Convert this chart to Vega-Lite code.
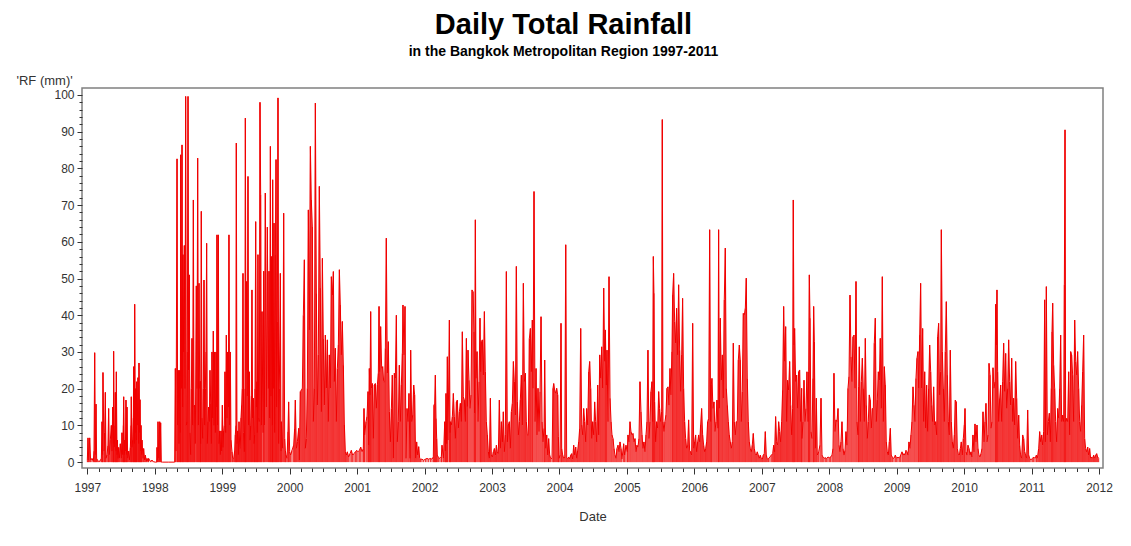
{
"$schema": "https://vega.github.io/schema/vega-lite/v6.json",
"width": 1021,
"height": 380,
"autosize": "none",
"padding": {"left": 82, "top": 88, "right": 28, "bottom": 78},
"background": "white",
"title": {"text": "Daily Total Rainfall", "subtitle": "in the Bangkok Metropolitan Region 1997-2011", "font": "Liberation Sans", "fontSize": 29, "fontWeight": "bold", "color": "black", "subtitleFont": "Liberation Sans", "subtitleFontSize": 14, "subtitleFontWeight": "bold", "subtitleColor": "black", "subtitlePadding": 5, "anchor": "middle", "dx": -29, "offset": 15},
"config": {"font": "Liberation Sans", "view": {"stroke": "#808080", "strokeWidth": 1.5}},
"data": {"values": [
{"date":1997.000,"rf":0.5},{"date":1997.010,"rf":6.6},{"date":1997.020,"rf":0.5},{"date":1997.035,"rf":6.6},{"date":1997.049,"rf":0.5},{"date":1997.069,"rf":1},{"date":1997.089,"rf":0.3},{"date":1997.099,"rf":3},{"date":1997.109,"rf":29.8},{"date":1997.119,"rf":2},{"date":1997.129,"rf":15.8},{"date":1997.138,"rf":1},{"date":1997.153,"rf":0.5},{"date":1997.168,"rf":0.2},{"date":1997.188,"rf":0.3},{"date":1997.208,"rf":1},{"date":1997.218,"rf":11},{"date":1997.227,"rf":2},{"date":1997.232,"rf":24.4},{"date":1997.247,"rf":3},{"date":1997.257,"rf":8},{"date":1997.267,"rf":19},{"date":1997.277,"rf":1},{"date":1997.292,"rf":2},{"date":1997.306,"rf":4.5},{"date":1997.316,"rf":14.6},{"date":1997.326,"rf":2},{"date":1997.341,"rf":6},{"date":1997.356,"rf":10},{"date":1997.366,"rf":3},{"date":1997.376,"rf":15},{"date":1997.386,"rf":5},{"date":1997.390,"rf":30.2},{"date":1997.400,"rf":4},{"date":1997.410,"rf":10},{"date":1997.415,"rf":19},{"date":1997.425,"rf":3},{"date":1997.430,"rf":24.6},{"date":1997.440,"rf":2},{"date":1997.445,"rf":6},{"date":1997.455,"rf":1},{"date":1997.465,"rf":4},{"date":1997.475,"rf":1},{"date":1997.489,"rf":5},{"date":1997.504,"rf":1},{"date":1997.514,"rf":8},{"date":1997.524,"rf":2},{"date":1997.534,"rf":10},{"date":1997.539,"rf":17.8},{"date":1997.549,"rf":2},{"date":1997.554,"rf":6},{"date":1997.564,"rf":3},{"date":1997.573,"rf":16.9},{"date":1997.583,"rf":2},{"date":1997.588,"rf":15},{"date":1997.598,"rf":1},{"date":1997.613,"rf":3},{"date":1997.623,"rf":0.5},{"date":1997.638,"rf":4},{"date":1997.648,"rf":10},{"date":1997.652,"rf":17.8},{"date":1997.662,"rf":4},{"date":1997.672,"rf":6},{"date":1997.682,"rf":12},{"date":1997.687,"rf":26},{"date":1997.697,"rf":5},{"date":1997.702,"rf":43},{"date":1997.712,"rf":8},{"date":1997.717,"rf":20},{"date":1997.727,"rf":6},{"date":1997.732,"rf":21.9},{"date":1997.741,"rf":10},{"date":1997.751,"rf":23},{"date":1997.761,"rf":5},{"date":1997.766,"rf":27},{"date":1997.776,"rf":8},{"date":1997.781,"rf":17},{"date":1997.791,"rf":3},{"date":1997.796,"rf":10},{"date":1997.806,"rf":2},{"date":1997.811,"rf":6},{"date":1997.825,"rf":1},{"date":1997.835,"rf":3.7},{"date":1997.850,"rf":0.5},{"date":1997.860,"rf":1.9},{"date":1997.875,"rf":0.3},{"date":1997.885,"rf":1},{"date":1997.900,"rf":0.2},{"date":1997.909,"rf":1},{"date":1997.934,"rf":0.2},{"date":1997.959,"rf":0.5},{"date":1997.984,"rf":0.1},{"date":1998.008,"rf":0},{"date":1998.028,"rf":0},{"date":1998.033,"rf":4},{"date":1998.043,"rf":0.5},{"date":1998.048,"rf":11},{"date":1998.058,"rf":1},{"date":1998.073,"rf":11},{"date":1998.077,"rf":0.5},{"date":1998.087,"rf":10.7},{"date":1998.097,"rf":0},{"date":1998.117,"rf":0},{"date":1998.206,"rf":0},{"date":1998.295,"rf":0},
{"date":1998.305,"rf":25.5},{"date":1998.315,"rf":3},{"date":1998.330,"rf":82.6},{"date":1998.339,"rf":10},{"date":1998.349,"rf":25},{"date":1998.359,"rf":5},{"date":1998.369,"rf":25},{"date":1998.379,"rf":8},{"date":1998.384,"rf":83.7},{"date":1998.394,"rf":20},{"date":1998.404,"rf":86.4},{"date":1998.414,"rf":15},{"date":1998.418,"rf":56.5},{"date":1998.428,"rf":30},{"date":1998.438,"rf":59},{"date":1998.448,"rf":20},{"date":1998.458,"rf":99.6},{"date":1998.468,"rf":10},{"date":1998.478,"rf":11},{"date":1998.483,"rf":30},{"date":1998.493,"rf":99.6},{"date":1998.502,"rf":25},{"date":1998.512,"rf":51},{"date":1998.522,"rf":8},{"date":1998.532,"rf":2},{"date":1998.542,"rf":20},{"date":1998.552,"rf":33.7},{"date":1998.562,"rf":10},{"date":1998.572,"rf":71.4},{"date":1998.582,"rf":15},{"date":1998.591,"rf":15.5},{"date":1998.601,"rf":5},{"date":1998.616,"rf":48},{"date":1998.626,"rf":20},{"date":1998.636,"rf":82.8},{"date":1998.646,"rf":10},{"date":1998.656,"rf":48.7},{"date":1998.666,"rf":20},{"date":1998.675,"rf":22},{"date":1998.680,"rf":5},{"date":1998.690,"rf":68.3},{"date":1998.700,"rf":12},{"date":1998.710,"rf":6.4},{"date":1998.720,"rf":20},{"date":1998.730,"rf":49.6},{"date":1998.740,"rf":10},{"date":1998.750,"rf":20},{"date":1998.759,"rf":30},{"date":1998.769,"rf":59.6},{"date":1998.779,"rf":5},{"date":1998.789,"rf":11},{"date":1998.799,"rf":15},{"date":1998.809,"rf":11},{"date":1998.819,"rf":25},{"date":1998.829,"rf":16},{"date":1998.839,"rf":5},{"date":1998.848,"rf":30},{"date":1998.858,"rf":12},{"date":1998.868,"rf":35.7},{"date":1998.878,"rf":10},{"date":1998.888,"rf":30},{"date":1998.898,"rf":8},{"date":1998.908,"rf":30},{"date":1998.918,"rf":15},{"date":1998.922,"rf":61.9},{"date":1998.932,"rf":10},{"date":1998.942,"rf":61.9},{"date":1998.952,"rf":5},{"date":1998.962,"rf":8.5},{"date":1998.972,"rf":2},{"date":1998.982,"rf":8.5},{"date":1998.992,"rf":3},{"date":1999.002,"rf":15.5},{"date":1999.011,"rf":4},{"date":1999.021,"rf":8.5},{"date":1999.031,"rf":10},{"date":1999.041,"rf":24.6},{"date":1999.051,"rf":8},{"date":1999.061,"rf":34.6},{"date":1999.071,"rf":12},{"date":1999.081,"rf":30},{"date":1999.091,"rf":15},{"date":1999.100,"rf":61.9},{"date":1999.110,"rf":10},{"date":1999.120,"rf":30},{"date":1999.130,"rf":6},{"date":1999.145,"rf":2.8},{"date":1999.155,"rf":1},{"date":1999.170,"rf":1},{"date":1999.184,"rf":3},{"date":1999.194,"rf":7.4},{"date":1999.204,"rf":10},{"date":1999.209,"rf":86.9},{"date":1999.219,"rf":5},{"date":1999.229,"rf":8.5},{"date":1999.239,"rf":2},{"date":1999.249,"rf":11},{"date":1999.259,"rf":4},{"date":1999.268,"rf":3.7},{"date":1999.278,"rf":12},{"date":1999.288,"rf":15.5},{"date":1999.298,"rf":20},{"date":1999.308,"rf":51.4},{"date":1999.318,"rf":8},{"date":1999.328,"rf":2.8},{"date":1999.338,"rf":20},{"date":1999.343,"rf":93.7},{"date":1999.352,"rf":25},{"date":1999.362,"rf":49.2},{"date":1999.372,"rf":18},{"date":1999.382,"rf":77.8},{"date":1999.392,"rf":10},{"date":1999.402,"rf":24.6},{"date":1999.412,"rf":6},{"date":1999.422,"rf":10},{"date":1999.432,"rf":18},{"date":1999.441,"rf":46.9},{"date":1999.451,"rf":12},{"date":1999.461,"rf":17.4},{"date":1999.471,"rf":5},{"date":1999.481,"rf":7.4},{"date":1999.486,"rf":20},{"date":1999.496,"rf":65.5},{"date":1999.506,"rf":15},{"date":1999.516,"rf":21.9},{"date":1999.520,"rf":8},{"date":1999.530,"rf":56.5},{"date":1999.540,"rf":12},{"date":1999.550,"rf":11},{"date":1999.560,"rf":98},{"date":1999.570,"rf":72.8},{"date":1999.580,"rf":10},
{"date":1999.590,"rf":41},{"date":1999.605,"rf":8},{"date":1999.615,"rf":52},{"date":1999.625,"rf":10},{"date":1999.639,"rf":73.3},{"date":1999.654,"rf":15},{"date":1999.669,"rf":64},{"date":1999.684,"rf":20},{"date":1999.694,"rf":52},{"date":1999.704,"rf":12},{"date":1999.714,"rf":86},{"date":1999.723,"rf":18},{"date":1999.733,"rf":56},{"date":1999.743,"rf":10},{"date":1999.748,"rf":76.9},{"date":1999.758,"rf":20},{"date":1999.768,"rf":65.1},{"date":1999.778,"rf":8},{"date":1999.788,"rf":56.4},{"date":1999.798,"rf":82.4},{"date":1999.807,"rf":15},{"date":1999.817,"rf":38.3},{"date":1999.827,"rf":99.2},{"date":1999.837,"rf":5},{"date":1999.847,"rf":20.1},{"date":1999.862,"rf":51.4},{"date":1999.872,"rf":3},{"date":1999.877,"rf":11},{"date":1999.896,"rf":3.7},{"date":1999.911,"rf":67.8},{"date":1999.926,"rf":6.4},{"date":1999.936,"rf":3.2},{"date":1999.946,"rf":1.9},{"date":1999.961,"rf":1},{"date":1999.975,"rf":8.3},{"date":1999.985,"rf":16.4},{"date":2000.000,"rf":2.8},{"date":2000.015,"rf":1.9},{"date":2000.035,"rf":3.2},{"date":2000.059,"rf":4.6},{"date":2000.074,"rf":9.2},{"date":2000.084,"rf":16.9},{"date":2000.099,"rf":3.7},{"date":2000.114,"rf":5.5},{"date":2000.134,"rf":9.2},{"date":2000.143,"rf":0.5},{"date":2000.158,"rf":19.2},{"date":2000.173,"rf":19.6},{"date":2000.188,"rf":20.1},{"date":2000.203,"rf":40},{"date":2000.218,"rf":55.1},{"date":2000.232,"rf":3.7},{"date":2000.247,"rf":6.4},{"date":2000.262,"rf":20.1},{"date":2000.277,"rf":68.7},{"date":2000.292,"rf":36},{"date":2000.307,"rf":86},{"date":2000.321,"rf":71.4},{"date":2000.336,"rf":64.2},{"date":2000.351,"rf":11},{"date":2000.366,"rf":20.1},{"date":2000.381,"rf":97.8},{"date":2000.396,"rf":46},{"date":2000.410,"rf":15.5},{"date":2000.425,"rf":29.2},{"date":2000.440,"rf":75.1},{"date":2000.455,"rf":47.4},{"date":2000.470,"rf":13.7},{"date":2000.485,"rf":55.5},{"date":2000.499,"rf":33.7},{"date":2000.514,"rf":15.5},{"date":2000.529,"rf":34.6},{"date":2000.544,"rf":20.1},{"date":2000.559,"rf":33.3},{"date":2000.573,"rf":11},{"date":2000.588,"rf":29.2},{"date":2000.603,"rf":20.1},{"date":2000.618,"rf":50.5},{"date":2000.633,"rf":45.5},{"date":2000.648,"rf":51.9},{"date":2000.662,"rf":21.9},{"date":2000.677,"rf":31},{"date":2000.692,"rf":11},{"date":2000.707,"rf":25.5},{"date":2000.722,"rf":31.9},{"date":2000.737,"rf":52.4},{"date":2000.751,"rf":42.8},{"date":2000.766,"rf":29.2},{"date":2000.781,"rf":38.3},{"date":2000.796,"rf":26.4},{"date":2000.811,"rf":10.1},{"date":2000.826,"rf":2.8},{"date":2000.840,"rf":1.9},{"date":2000.855,"rf":2.8},{"date":2000.875,"rf":1.4},{"date":2000.895,"rf":2.3},{"date":2000.914,"rf":3.2},{"date":2000.934,"rf":1.9},{"date":2000.954,"rf":2.3},{"date":2000.974,"rf":2.8},{"date":2000.994,"rf":3.2},{"date":2001.013,"rf":2.8},{"date":2001.033,"rf":3.2},{"date":2001.053,"rf":4.1},{"date":2001.073,"rf":2.8},{"date":2001.092,"rf":3.7},{"date":2001.102,"rf":14.6},{"date":2001.112,"rf":7.4},{"date":2001.132,"rf":11},{"date":2001.147,"rf":12.4},{"date":2001.162,"rf":19.2},{"date":2001.171,"rf":4.6},{"date":2001.181,"rf":25.5},{"date":2001.191,"rf":18.3},{"date":2001.201,"rf":41},{"date":2001.211,"rf":20.1},{"date":2001.226,"rf":21.4},{"date":2001.241,"rf":6.4},{"date":2001.255,"rf":21},{"date":2001.270,"rf":21.4},{"date":2001.285,"rf":14.6},{"date":2001.300,"rf":21},{"date":2001.315,"rf":24.2},{"date":2001.325,"rf":42.4},{"date":2001.334,"rf":24.6},{"date":2001.349,"rf":36.9},{"date":2001.364,"rf":25.5},{"date":2001.379,"rf":26},{"date":2001.394,"rf":21.9},{"date":2001.409,"rf":21.9},{"date":2001.419,"rf":31},{"date":2001.433,"rf":61},{"date":2001.448,"rf":24.2},{"date":2001.463,"rf":32.8},{"date":2001.478,"rf":13.7},{"date":2001.493,"rf":5.5},{"date":2001.508,"rf":14.6},{"date":2001.522,"rf":23.7},{"date":2001.537,"rf":1},{"date":2001.552,"rf":24.2},{"date":2001.567,"rf":22.8},{"date":2001.582,"rf":40},{"date":2001.596,"rf":5.5},{"date":2001.611,"rf":11},{"date":2001.626,"rf":26.4},{"date":2001.641,"rf":11},{"date":2001.656,"rf":21},{"date":2001.671,"rf":29.6},{"date":2001.680,"rf":42.8},{"date":2001.695,"rf":29.2},{"date":2001.710,"rf":42.4},{"date":2001.725,"rf":1},{"date":2001.740,"rf":14.6},{"date":2001.755,"rf":11},{"date":2001.769,"rf":18.7},{"date":2001.784,"rf":1},{"date":2001.794,"rf":30.5},{"date":2001.809,"rf":11},{"date":2001.824,"rf":12.8},{"date":2001.839,"rf":21},{"date":2001.853,"rf":18.3},{"date":2001.868,"rf":1},{"date":2001.883,"rf":5.5},{"date":2001.898,"rf":1.9},{"date":2001.913,"rf":4.2},{"date":2001.928,"rf":1},{"date":2001.942,"rf":0.8},{"date":2001.962,"rf":0.8},{"date":2001.987,"rf":0.5},{"date":2002.012,"rf":0.8},{"date":2002.036,"rf":1},{"date":2002.061,"rf":0.8},{"date":2002.086,"rf":1},{"date":2002.110,"rf":0.8},{"date":2002.130,"rf":1.4},{"date":2002.140,"rf":15.5},{"date":2002.150,"rf":16},{"date":2002.160,"rf":23.7},{"date":2002.170,"rf":11.9},{"date":2002.180,"rf":6.4},{"date":2002.189,"rf":1.9},{"date":2002.209,"rf":1.2},{"date":2002.229,"rf":1},{"date":2002.249,"rf":1.5},
{"date":2002.259,"rf":4.6},{"date":2002.279,"rf":1},{"date":2002.299,"rf":11},{"date":2002.308,"rf":3},{"date":2002.318,"rf":18.7},{"date":2002.328,"rf":5},{"date":2002.338,"rf":28.7},{"date":2002.348,"rf":6},{"date":2002.368,"rf":38.7},{"date":2002.378,"rf":8},{"date":2002.383,"rf":11},{"date":2002.397,"rf":10.1},{"date":2002.412,"rf":12.4},{"date":2002.427,"rf":18.7},{"date":2002.442,"rf":12.4},{"date":2002.457,"rf":6.4},{"date":2002.472,"rf":16.4},{"date":2002.486,"rf":16.9},{"date":2002.501,"rf":9.2},{"date":2002.516,"rf":13.7},{"date":2002.531,"rf":16},{"date":2002.546,"rf":11},{"date":2002.560,"rf":35.5},{"date":2002.575,"rf":17.8},{"date":2002.590,"rf":16.9},{"date":2002.605,"rf":11},{"date":2002.620,"rf":33.7},{"date":2002.635,"rf":15.1},{"date":2002.644,"rf":30.5},{"date":2002.659,"rf":22.3},{"date":2002.674,"rf":14.6},{"date":2002.689,"rf":18.3},{"date":2002.704,"rf":46.9},{"date":2002.719,"rf":46.4},{"date":2002.733,"rf":35.5},{"date":2002.743,"rf":13.3},{"date":2002.753,"rf":66},{"date":2002.763,"rf":22.8},{"date":2002.778,"rf":30.1},{"date":2002.793,"rf":11},{"date":2002.808,"rf":21.9},{"date":2002.822,"rf":39.2},{"date":2002.832,"rf":24.6},{"date":2002.842,"rf":32.8},{"date":2002.857,"rf":33.3},{"date":2002.872,"rf":23.7},{"date":2002.887,"rf":41},{"date":2002.901,"rf":24.6},{"date":2002.916,"rf":11},{"date":2002.931,"rf":7.4},{"date":2002.946,"rf":2.8},{"date":2002.961,"rf":1},{"date":2002.976,"rf":17.4},{"date":2002.990,"rf":1.9},{"date":2003.005,"rf":1.4},{"date":2003.020,"rf":2.8},{"date":2003.035,"rf":3.7},{"date":2003.050,"rf":1.9},{"date":2003.065,"rf":4.6},{"date":2003.079,"rf":2.8},{"date":2003.094,"rf":2.3},{"date":2003.109,"rf":16.9},{"date":2003.124,"rf":3.7},{"date":2003.139,"rf":11},{"date":2003.154,"rf":5.5},{"date":2003.168,"rf":13.7},{"date":2003.183,"rf":2.8},{"date":2003.198,"rf":7.4},{"date":2003.213,"rf":51.9},{"date":2003.228,"rf":5.5},{"date":2003.242,"rf":10.1},{"date":2003.257,"rf":11},{"date":2003.272,"rf":3.7},{"date":2003.287,"rf":13.7},{"date":2003.302,"rf":16},{"date":2003.317,"rf":27.4},{"date":2003.331,"rf":21.9},{"date":2003.346,"rf":12.8},{"date":2003.361,"rf":53.3},{"date":2003.376,"rf":16.4},{"date":2003.391,"rf":7.4},{"date":2003.406,"rf":11},{"date":2003.420,"rf":16.9},{"date":2003.435,"rf":23.7},{"date":2003.450,"rf":10.1},{"date":2003.465,"rf":48.7},{"date":2003.480,"rf":21.9},{"date":2003.495,"rf":24.2},{"date":2003.509,"rf":11},{"date":2003.524,"rf":7.4},{"date":2003.539,"rf":7.4},{"date":2003.554,"rf":33.7},{"date":2003.569,"rf":36.4},{"date":2003.583,"rf":24.6},{"date":2003.598,"rf":38.7},{"date":2003.608,"rf":20.1},{"date":2003.623,"rf":73.7},{"date":2003.638,"rf":11},{"date":2003.653,"rf":25.5},{"date":2003.667,"rf":7.4},{"date":2003.682,"rf":20.1},{"date":2003.697,"rf":8.3},{"date":2003.712,"rf":19.2},{"date":2003.727,"rf":39.6},{"date":2003.742,"rf":11},{"date":2003.756,"rf":5.5},{"date":2003.771,"rf":9.2},{"date":2003.781,"rf":27.8},{"date":2003.796,"rf":3.7},{"date":2003.811,"rf":7.4},{"date":2003.826,"rf":1.9},{"date":2003.840,"rf":6.4},{"date":2003.855,"rf":1.9},{"date":2003.870,"rf":1},{"date":2003.890,"rf":1},{"date":2003.905,"rf":20.1},{"date":2003.915,"rf":21.4},{"date":2003.929,"rf":19.6},{"date":2003.944,"rf":18.7},{"date":2003.959,"rf":20.1},{"date":2003.974,"rf":18.3},{"date":2003.984,"rf":6.9},{"date":2003.994,"rf":1},{"date":2004.009,"rf":1.9},{"date":2004.023,"rf":37.8},{"date":2004.033,"rf":3.7},{"date":2004.048,"rf":1.9},{"date":2004.063,"rf":1},{"date":2004.078,"rf":1.4},{"date":2004.093,"rf":59.2},{"date":2004.107,"rf":1},{"date":2004.122,"rf":1},{"date":2004.137,"rf":1.4},{"date":2004.152,"rf":0.8},{"date":2004.167,"rf":1.9},{"date":2004.181,"rf":2.3},{"date":2004.196,"rf":0.8},{"date":2004.211,"rf":4.6},{"date":2004.226,"rf":1.9},{"date":2004.241,"rf":4.1},{"date":2004.256,"rf":1},{"date":2004.270,"rf":3.2},{"date":2004.285,"rf":5.5},{"date":2004.300,"rf":9.2},{"date":2004.315,"rf":36.4},{"date":2004.330,"rf":10.1},{"date":2004.345,"rf":7.4},{"date":2004.359,"rf":14.6},{"date":2004.374,"rf":11},{"date":2004.389,"rf":5.5},{"date":2004.404,"rf":14.6},{"date":2004.419,"rf":10.1},{"date":2004.434,"rf":24.6},{"date":2004.448,"rf":27.4},{"date":2004.463,"rf":20.1},{"date":2004.478,"rf":6.4},{"date":2004.493,"rf":11},{"date":2004.508,"rf":7.4},{"date":2004.522,"rf":16.4},{"date":2004.537,"rf":11},{"date":2004.552,"rf":5.5},{"date":2004.567,"rf":21},{"date":2004.582,"rf":7.4},{"date":2004.597,"rf":29.2},{"date":2004.611,"rf":22.8},{"date":2004.626,"rf":31.4},{"date":2004.641,"rf":20.1},{"date":2004.656,"rf":47.4},{"date":2004.671,"rf":27.4},{"date":2004.681,"rf":36},{"date":2004.695,"rf":21},{"date":2004.705,"rf":30.5},{"date":2004.720,"rf":11},{"date":2004.735,"rf":50.5},{"date":2004.750,"rf":17.4},{"date":2004.765,"rf":11},{"date":2004.779,"rf":7.4},{"date":2004.794,"rf":6.4},{"date":2004.809,"rf":3.7},{"date":2004.824,"rf":1.9},{"date":2004.839,"rf":1},{"date":2004.853,"rf":3.7},{"date":2004.868,"rf":4.6},{"date":2004.883,"rf":2.8},{"date":2004.898,"rf":5.5},{"date":2004.913,"rf":3.7},
{"date":2004.927,"rf":0.8},{"date":2004.952,"rf":5},{"date":2004.967,"rf":1.9},{"date":2004.986,"rf":4.6},{"date":2005.006,"rf":2.8},{"date":2005.016,"rf":7.4},{"date":2005.031,"rf":5.5},{"date":2005.046,"rf":11},{"date":2005.060,"rf":8.3},{"date":2005.075,"rf":7.4},{"date":2005.090,"rf":7.8},{"date":2005.105,"rf":5.5},{"date":2005.120,"rf":6.4},{"date":2005.135,"rf":2.8},{"date":2005.149,"rf":4.6},{"date":2005.164,"rf":4.1},{"date":2005.179,"rf":6.4},{"date":2005.194,"rf":21.9},{"date":2005.209,"rf":13.7},{"date":2005.224,"rf":7.4},{"date":2005.238,"rf":3.7},{"date":2005.253,"rf":5.5},{"date":2005.268,"rf":2.8},{"date":2005.283,"rf":7.4},{"date":2005.298,"rf":11},{"date":2005.312,"rf":30.5},{"date":2005.327,"rf":6.4},{"date":2005.342,"rf":11},{"date":2005.357,"rf":19.2},{"date":2005.372,"rf":21.9},{"date":2005.382,"rf":11},{"date":2005.392,"rf":56},{"date":2005.401,"rf":46},{"date":2005.411,"rf":16.4},{"date":2005.426,"rf":5.5},{"date":2005.441,"rf":11},{"date":2005.456,"rf":9.2},{"date":2005.471,"rf":19.2},{"date":2005.485,"rf":14.6},{"date":2005.500,"rf":11},{"date":2005.515,"rf":13.7},{"date":2005.525,"rf":93.3},{"date":2005.535,"rf":11},{"date":2005.550,"rf":8.3},{"date":2005.564,"rf":11},{"date":2005.579,"rf":12.8},{"date":2005.594,"rf":20.1},{"date":2005.609,"rf":20.5},{"date":2005.624,"rf":15.5},{"date":2005.639,"rf":25.5},{"date":2005.653,"rf":18.3},{"date":2005.668,"rf":30.1},{"date":2005.678,"rf":45.5},{"date":2005.693,"rf":51.4},{"date":2005.708,"rf":38.3},{"date":2005.723,"rf":32.4},{"date":2005.737,"rf":41.9},{"date":2005.752,"rf":29.2},{"date":2005.767,"rf":48.3},{"date":2005.782,"rf":30.5},{"date":2005.797,"rf":19.2},{"date":2005.812,"rf":29.2},{"date":2005.826,"rf":44.6},{"date":2005.841,"rf":20.1},{"date":2005.856,"rf":11},{"date":2005.871,"rf":6.4},{"date":2005.886,"rf":3.7},{"date":2005.901,"rf":4.6},{"date":2005.915,"rf":11.5},{"date":2005.930,"rf":3.2},{"date":2005.945,"rf":2.8},{"date":2005.960,"rf":1.9},{"date":2005.975,"rf":37.8},{"date":2005.990,"rf":3.7},{"date":2006.004,"rf":5.5},{"date":2006.019,"rf":7.4},{"date":2006.034,"rf":2.8},{"date":2006.049,"rf":5.5},{"date":2006.064,"rf":7.4},{"date":2006.079,"rf":5.5},{"date":2006.093,"rf":10.1},{"date":2006.108,"rf":14.6},{"date":2006.123,"rf":7.4},{"date":2006.138,"rf":4.6},{"date":2006.153,"rf":2.8},{"date":2006.167,"rf":3.7},{"date":2006.182,"rf":5.5},{"date":2006.197,"rf":11},{"date":2006.212,"rf":11.9},{"date":2006.227,"rf":63.3},{"date":2006.242,"rf":11},{"date":2006.251,"rf":21},{"date":2006.261,"rf":22.8},{"date":2006.276,"rf":14.6},{"date":2006.291,"rf":16.4},{"date":2006.306,"rf":8.3},{"date":2006.321,"rf":11},{"date":2006.335,"rf":16.9},{"date":2006.350,"rf":9.2},{"date":2006.360,"rf":63.3},{"date":2006.370,"rf":14.6},{"date":2006.385,"rf":39.2},{"date":2006.400,"rf":22.3},{"date":2006.415,"rf":29.2},{"date":2006.429,"rf":17.4},{"date":2006.444,"rf":44.2},{"date":2006.459,"rf":58.3},{"date":2006.474,"rf":20.1},{"date":2006.489,"rf":15.5},{"date":2006.504,"rf":11},{"date":2006.518,"rf":7.4},{"date":2006.533,"rf":5.5},{"date":2006.548,"rf":3.7},{"date":2006.563,"rf":5.5},{"date":2006.578,"rf":32.4},{"date":2006.592,"rf":11},{"date":2006.607,"rf":7.4},{"date":2006.622,"rf":11},{"date":2006.637,"rf":11},{"date":2006.652,"rf":27.8},{"date":2006.667,"rf":31.9},{"date":2006.681,"rf":27.8},{"date":2006.696,"rf":11},{"date":2006.711,"rf":19.2},{"date":2006.726,"rf":40.5},{"date":2006.741,"rf":40.1},{"date":2006.756,"rf":41.9},{"date":2006.770,"rf":50.1},{"date":2006.785,"rf":22.8},{"date":2006.800,"rf":11},{"date":2006.815,"rf":5.5},{"date":2006.830,"rf":3.7},{"date":2006.845,"rf":2.8},{"date":2006.859,"rf":4.6},{"date":2006.874,"rf":7.8},{"date":2006.889,"rf":3.7},{"date":2006.904,"rf":2.3},{"date":2006.919,"rf":1.9},{"date":2006.933,"rf":2.8},{"date":2006.948,"rf":1.9},{"date":2006.963,"rf":1},{"date":2006.978,"rf":1.9},{"date":2006.993,"rf":1},{"date":2007.008,"rf":0.8},{"date":2007.022,"rf":1.9},{"date":2007.037,"rf":2.3},{"date":2007.052,"rf":8.3},{"date":2007.067,"rf":1.9},{"date":2007.082,"rf":0.8},{"date":2007.101,"rf":1},{"date":2007.121,"rf":1.4},{"date":2007.141,"rf":1.9},{"date":2007.161,"rf":2.3},{"date":2007.176,"rf":4.6},{"date":2007.190,"rf":2.8},{"date":2007.205,"rf":12.4},{"date":2007.220,"rf":5.5},{"date":2007.235,"rf":4.6},{"date":2007.250,"rf":11},{"date":2007.265,"rf":8.3},{"date":2007.279,"rf":5.5},{"date":2007.294,"rf":11},{"date":2007.309,"rf":19.6},{"date":2007.324,"rf":42.4},{"date":2007.339,"rf":27.4},{"date":2007.354,"rf":36.9},{"date":2007.368,"rf":11},{"date":2007.383,"rf":22.3},{"date":2007.398,"rf":19.6},{"date":2007.413,"rf":27.4},{"date":2007.428,"rf":15.5},{"date":2007.443,"rf":7.4},{"date":2007.457,"rf":14.6},{"date":2007.467,"rf":71.4},{"date":2007.477,"rf":31.9},{"date":2007.487,"rf":36.4},{"date":2007.502,"rf":21.9},{"date":2007.517,"rf":23.7},{"date":2007.531,"rf":14.6},{"date":2007.546,"rf":24.6},{"date":2007.561,"rf":25.1},{"date":2007.576,"rf":11},{"date":2007.591,"rf":20.1},
{"date":2007.596,"rf":6.4},{"date":2007.611,"rf":11},{"date":2007.626,"rf":22.3},{"date":2007.640,"rf":11},{"date":2007.655,"rf":14.6},{"date":2007.670,"rf":24.6},{"date":2007.685,"rf":11},{"date":2007.695,"rf":24.6},{"date":2007.705,"rf":51},{"date":2007.715,"rf":39.2},{"date":2007.729,"rf":8.3},{"date":2007.744,"rf":6.4},{"date":2007.759,"rf":22.8},{"date":2007.769,"rf":42.4},{"date":2007.779,"rf":32.8},{"date":2007.794,"rf":3.7},{"date":2007.809,"rf":17.4},{"date":2007.823,"rf":1.9},{"date":2007.843,"rf":2.8},{"date":2007.863,"rf":4.6},{"date":2007.878,"rf":17.4},{"date":2007.893,"rf":1.9},{"date":2007.907,"rf":1.4},{"date":2007.922,"rf":1},{"date":2007.942,"rf":1.2},{"date":2007.962,"rf":1},{"date":2007.981,"rf":1.4},{"date":2008.001,"rf":1.2},{"date":2008.021,"rf":1.4},{"date":2008.041,"rf":1.9},{"date":2008.056,"rf":3.7},{"date":2008.070,"rf":24.2},{"date":2008.085,"rf":8.3},{"date":2008.100,"rf":11.5},{"date":2008.115,"rf":11},{"date":2008.130,"rf":14.6},{"date":2008.145,"rf":4.6},{"date":2008.159,"rf":2.8},{"date":2008.174,"rf":5.5},{"date":2008.189,"rf":11},{"date":2008.204,"rf":3.7},{"date":2008.219,"rf":1.9},{"date":2008.234,"rf":3.2},{"date":2008.248,"rf":8.3},{"date":2008.263,"rf":4.6},{"date":2008.278,"rf":20.1},{"date":2008.293,"rf":23.3},{"date":2008.308,"rf":45.5},{"date":2008.323,"rf":28.7},{"date":2008.337,"rf":21.9},{"date":2008.352,"rf":34.1},{"date":2008.367,"rf":34.6},{"date":2008.382,"rf":20.1},{"date":2008.397,"rf":49.2},{"date":2008.411,"rf":11},{"date":2008.426,"rf":7.4},{"date":2008.436,"rf":20.5},{"date":2008.446,"rf":31.4},{"date":2008.461,"rf":11},{"date":2008.476,"rf":21.9},{"date":2008.491,"rf":28.3},{"date":2008.505,"rf":20.1},{"date":2008.520,"rf":11},{"date":2008.535,"rf":33.7},{"date":2008.550,"rf":15.5},{"date":2008.565,"rf":6.4},{"date":2008.579,"rf":11},{"date":2008.594,"rf":18.3},{"date":2008.609,"rf":16.9},{"date":2008.624,"rf":9.2},{"date":2008.639,"rf":14.6},{"date":2008.654,"rf":14.6},{"date":2008.668,"rf":32.4},{"date":2008.683,"rf":39.2},{"date":2008.698,"rf":11},{"date":2008.713,"rf":16.9},{"date":2008.728,"rf":24.6},{"date":2008.743,"rf":22.3},{"date":2008.757,"rf":33.7},{"date":2008.772,"rf":14.6},{"date":2008.787,"rf":50.5},{"date":2008.802,"rf":11},{"date":2008.817,"rf":26},{"date":2008.831,"rf":21},{"date":2008.846,"rf":5.5},{"date":2008.861,"rf":2.8},{"date":2008.876,"rf":1.9},{"date":2008.891,"rf":5.5},{"date":2008.906,"rf":9.2},{"date":2008.920,"rf":1.9},{"date":2008.940,"rf":1.2},{"date":2008.960,"rf":1},{"date":2008.980,"rf":1.9},{"date":2009.000,"rf":1},{"date":2009.019,"rf":1.4},{"date":2009.039,"rf":1},{"date":2009.059,"rf":1.9},{"date":2009.079,"rf":2.8},{"date":2009.093,"rf":1.9},{"date":2009.108,"rf":2.3},{"date":2009.123,"rf":1.9},{"date":2009.138,"rf":3.2},{"date":2009.153,"rf":2.8},{"date":2009.168,"rf":1.9},{"date":2009.182,"rf":5.5},{"date":2009.197,"rf":3.7},{"date":2009.212,"rf":7.4},{"date":2009.227,"rf":11},{"date":2009.242,"rf":20.5},{"date":2009.257,"rf":15.5},{"date":2009.271,"rf":11},{"date":2009.286,"rf":22.8},{"date":2009.301,"rf":28.3},{"date":2009.316,"rf":30.1},{"date":2009.326,"rf":20.1},{"date":2009.341,"rf":34.6},{"date":2009.355,"rf":48.7},{"date":2009.370,"rf":20.1},{"date":2009.385,"rf":36.4},{"date":2009.400,"rf":11},{"date":2009.415,"rf":24.6},{"date":2009.430,"rf":9.2},{"date":2009.444,"rf":21},{"date":2009.459,"rf":8.3},{"date":2009.474,"rf":20.1},{"date":2009.489,"rf":31.9},{"date":2009.504,"rf":24.6},{"date":2009.519,"rf":15.5},{"date":2009.533,"rf":11},{"date":2009.548,"rf":20.5},{"date":2009.563,"rf":10.1},{"date":2009.578,"rf":11},{"date":2009.593,"rf":7.4},{"date":2009.607,"rf":34.1},{"date":2009.622,"rf":37.8},{"date":2009.637,"rf":18.3},{"date":2009.652,"rf":24.6},{"date":2009.662,"rf":63.3},{"date":2009.677,"rf":30.1},{"date":2009.692,"rf":20.1},{"date":2009.706,"rf":11},{"date":2009.721,"rf":30.1},{"date":2009.736,"rf":43.7},{"date":2009.751,"rf":23.7},{"date":2009.766,"rf":11},{"date":2009.780,"rf":7.4},{"date":2009.795,"rf":30.5},{"date":2009.810,"rf":11},{"date":2009.825,"rf":5.5},{"date":2009.840,"rf":3.7},{"date":2009.855,"rf":7.4},{"date":2009.869,"rf":16.9},{"date":2009.884,"rf":16.4},{"date":2009.899,"rf":3.7},{"date":2009.914,"rf":2.3},{"date":2009.929,"rf":1.9},{"date":2009.944,"rf":3.7},{"date":2009.958,"rf":5.5},{"date":2009.973,"rf":1.9},{"date":2009.988,"rf":6.4},{"date":2010.003,"rf":10.1},{"date":2010.013,"rf":14.6},{"date":2010.028,"rf":2.8},{"date":2010.042,"rf":1.9},{"date":2010.057,"rf":4.6},{"date":2010.072,"rf":3.7},{"date":2010.087,"rf":1.9},{"date":2010.102,"rf":2.8},{"date":2010.116,"rf":1.4},{"date":2010.131,"rf":7.4},{"date":2010.146,"rf":2.8},{"date":2010.161,"rf":10.4},{"date":2010.176,"rf":5.5},{"date":2010.191,"rf":10.1},{"date":2010.205,"rf":3.7},{"date":2010.220,"rf":1.9},{"date":2010.235,"rf":1.4},{"date":2010.250,"rf":2.3},
{"date":2010.265,"rf":3.7},{"date":2010.280,"rf":13.7},{"date":2010.295,"rf":5.5},{"date":2010.309,"rf":11},{"date":2010.324,"rf":16},{"date":2010.339,"rf":5.5},{"date":2010.354,"rf":7.4},{"date":2010.369,"rf":26.9},{"date":2010.384,"rf":23.7},{"date":2010.398,"rf":9.2},{"date":2010.413,"rf":11},{"date":2010.428,"rf":25.7},{"date":2010.443,"rf":20.1},{"date":2010.458,"rf":21.9},{"date":2010.468,"rf":43},{"date":2010.477,"rf":31.9},{"date":2010.487,"rf":46.9},{"date":2010.497,"rf":24.6},{"date":2010.512,"rf":11},{"date":2010.527,"rf":17.4},{"date":2010.542,"rf":21},{"date":2010.557,"rf":11},{"date":2010.571,"rf":21.9},{"date":2010.586,"rf":32.4},{"date":2010.601,"rf":19.2},{"date":2010.616,"rf":29.6},{"date":2010.631,"rf":14.6},{"date":2010.646,"rf":20.1},{"date":2010.660,"rf":33.3},{"date":2010.675,"rf":21.9},{"date":2010.690,"rf":15.5},{"date":2010.705,"rf":28.3},{"date":2010.720,"rf":11},{"date":2010.734,"rf":17.4},{"date":2010.749,"rf":10.1},{"date":2010.764,"rf":27.4},{"date":2010.779,"rf":17.4},{"date":2010.794,"rf":6.4},{"date":2010.809,"rf":12.8},{"date":2010.823,"rf":4.6},{"date":2010.838,"rf":1.9},{"date":2010.853,"rf":1},{"date":2010.868,"rf":7.4},{"date":2010.883,"rf":6.4},{"date":2010.898,"rf":2.8},{"date":2010.912,"rf":1.9},{"date":2010.927,"rf":1},{"date":2010.942,"rf":14.2},{"date":2010.957,"rf":1.9},{"date":2010.972,"rf":1},{"date":2010.991,"rf":0.6},{"date":2011.011,"rf":1},{"date":2011.031,"rf":1.4},{"date":2011.051,"rf":1},{"date":2011.071,"rf":1.9},{"date":2011.085,"rf":1},{"date":2011.105,"rf":3.7},{"date":2011.120,"rf":8.3},{"date":2011.135,"rf":5.5},{"date":2011.150,"rf":7.4},{"date":2011.164,"rf":4.6},{"date":2011.179,"rf":8.3},{"date":2011.194,"rf":44.2},{"date":2011.204,"rf":5.5},{"date":2011.219,"rf":47.8},{"date":2011.234,"rf":7.4},{"date":2011.248,"rf":11},{"date":2011.263,"rf":13.3},{"date":2011.278,"rf":5.5},{"date":2011.293,"rf":20.1},{"date":2011.303,"rf":35.5},{"date":2011.313,"rf":43.3},{"date":2011.327,"rf":26.4},{"date":2011.342,"rf":20.1},{"date":2011.357,"rf":11},{"date":2011.372,"rf":5.5},{"date":2011.387,"rf":14.6},{"date":2011.402,"rf":11.9},{"date":2011.417,"rf":20.1},{"date":2011.431,"rf":34.6},{"date":2011.446,"rf":11},{"date":2011.461,"rf":12.8},{"date":2011.476,"rf":11},{"date":2011.486,"rf":48.3},{"date":2011.496,"rf":90.5},{"date":2011.505,"rf":11},{"date":2011.520,"rf":11.9},{"date":2011.535,"rf":11},{"date":2011.550,"rf":24.6},{"date":2011.565,"rf":7.4},{"date":2011.580,"rf":30.1},{"date":2011.594,"rf":29.2},{"date":2011.609,"rf":23.7},{"date":2011.624,"rf":11},{"date":2011.639,"rf":38.7},{"date":2011.654,"rf":27.4},{"date":2011.669,"rf":23.7},{"date":2011.683,"rf":30.1},{"date":2011.698,"rf":20.1},{"date":2011.713,"rf":11},{"date":2011.728,"rf":8.3},{"date":2011.743,"rf":15.5},{"date":2011.757,"rf":24.6},{"date":2011.772,"rf":34.6},{"date":2011.787,"rf":6.4},{"date":2011.802,"rf":3.7},{"date":2011.817,"rf":2.8},{"date":2011.832,"rf":4.1},{"date":2011.846,"rf":1.9},{"date":2011.861,"rf":3.7},{"date":2011.876,"rf":1},{"date":2011.891,"rf":1.4},{"date":2011.906,"rf":1},{"date":2011.920,"rf":1.9},{"date":2011.935,"rf":1},{"date":2011.950,"rf":1.9},{"date":2011.965,"rf":2.3},{"date":2011.980,"rf":1.4},{"date":2011.995,"rf":1}
]},
"layer": [
{"mark": {"type": "rule", "color": "#f00000", "strokeWidth": 0.9},
 "encoding": {
  "x": {"field": "date", "type": "quantitative", "title": "Date", "scale": {"domain": [1996.921, 2012.059], "nice": false, "zero": false},
        "axis": {"orient": "bottom", "values": [1997,1998,1999,2000,2001,2002,2003,2004,2005,2006,2007,2008,2009,2010,2011,2012], "format": "d", "grid": false, "domain": false, "tickSize": 6, "tickColor": "#333333", "labelFontSize": 12, "labelColor": "#333333", "labelPadding": 8, "labelFlush": false, "labelOverlap": false, "titleFontSize": 13, "titleFontWeight": "normal", "titleColor": "#333333", "titlePadding": 17}},
  "y": {"field": "rf", "type": "quantitative", "title": "'RF (mm)'", "scale": {"domain": [-1.6, 101.9], "nice": false, "zero": false},
        "axis": {"orient": "left", "values": [0,10,20,30,40,50,60,70,80,90,100], "grid": false, "domain": false, "tickSize": 5, "tickColor": "#333333", "labelFontSize": 12, "labelColor": "#333333", "labelPadding": 3, "labelFlush": false, "labelOverlap": false, "titleFontSize": 13, "titleFontWeight": "normal", "titleColor": "#333333", "titleAngle": 0, "titleAlign": "left", "titleBaseline": "alphabetic", "titleAnchor": "end", "titleX": -66, "titleY": -4}},
  "y2": {"datum": 0}
 }},
{"mark": {"type": "line", "color": "#f00000", "strokeWidth": 1},
 "encoding": {
  "x": {"field": "date", "type": "quantitative", "axis": {"orient": "bottom", "title": null, "labels": false, "domain": false, "grid": false, "tickSize": 3.5, "tickColor": "#333333", "values": [1997.167,1997.333,1997.5,1997.667,1997.833,1998.167,1998.333,1998.5,1998.667,1998.833,1999.167,1999.333,1999.5,1999.667,1999.833,2000.167,2000.333,2000.5,2000.667,2000.833,2001.167,2001.333,2001.5,2001.667,2001.833,2002.167,2002.333,2002.5,2002.667,2002.833,2003.167,2003.333,2003.5,2003.667,2003.833,2004.167,2004.333,2004.5,2004.667,2004.833,2005.167,2005.333,2005.5,2005.667,2005.833,2006.167,2006.333,2006.5,2006.667,2006.833,2007.167,2007.333,2007.5,2007.667,2007.833,2008.167,2008.333,2008.5,2008.667,2008.833,2009.167,2009.333,2009.5,2009.667,2009.833,2010.167,2010.333,2010.5,2010.667,2010.833,2011.167,2011.333,2011.5,2011.667,2011.833]}},
  "y": {"field": "rf", "type": "quantitative", "axis": {"orient": "left", "title": null, "labels": false, "domain": false, "grid": false, "tickSize": 3, "tickColor": "#333333", "values": [2,4,6,8,12,14,16,18,22,24,26,28,32,34,36,38,42,44,46,48,52,54,56,58,62,64,66,68,72,74,76,78,82,84,86,88,92,94,96,98]}}
 }}
],
"resolve": {"axis": {"x": "independent", "y": "independent"}}
}
